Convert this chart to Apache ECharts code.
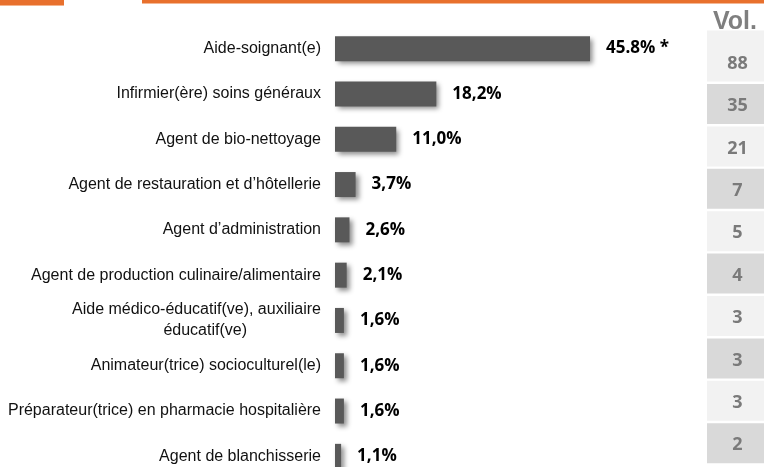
<!DOCTYPE html>
<html>
<head>
<meta charset="utf-8">
<script src="https://cdn.jsdelivr.net/npm/echarts@6/dist/echarts.min.js"></script>
<style>
html,body{margin:0;padding:0;background:#fff;}
#chart{width:764px;height:467px;}
</style>
</head>
<body>
<div id="chart"></div>
<script>
var categories = [
  'Aide-soignant(e)',
  'Infirmier(ère) soins généraux',
  'Agent de bio-nettoyage',
  'Agent de restauration et d\u2019hôtellerie',
  'Agent d\u2019administration',
  'Agent de production culinaire/alimentaire',
  'Aide médico-éducatif(ve), auxiliaire\néducatif(ve)',
  'Animateur(trice) socioculturel(le)',
  'Préparateur(trice) en pharmacie hospitalière',
  'Agent de blanchisserie'
];
var percents = [45.8, 18.2, 11.0, 3.7, 2.6, 2.1, 1.6, 1.6, 1.6, 1.1];
var percentLabels = ['45.8% *', '18,2%', '11,0%', '3,7%', '2,6%', '2,1%', '1,6%', '1,6%', '1,6%', '1,1%'];
var vols = [88, 35, 21, 7, 5, 4, 3, 3, 3, 2];
var volTitle = 'Vol.';

var chart = echarts.init(document.getElementById('chart'), null, {renderer: 'canvas'});

var option = {
  backgroundColor: '#ffffff',
  animation: false,
  title: {
    text: volTitle,
    left: 713,
    top: 10,
    padding: 0,
    textStyle: {fontFamily: 'Liberation Sans', fontWeight: 'bold', fontSize: 25, color: '#7f7f7f'}
  },
  graphic: [
    {type: 'rect', shape: {x: 0, y: 0, width: 64, height: 5}, style: {fill: '#e8702d'}},
    {type: 'rect', shape: {x: 0, y: 5, width: 64, height: 1}, style: {fill: '#f4b48e'}},
    {type: 'rect', shape: {x: 142, y: 0, width: 622, height: 3.5}, style: {fill: '#e8702d'}}
  ],
  grid: [
    {left: 335, top: 26, width: 278.4, height: 453, outerBoundsMode: 'none', containLabel: false},
    {left: 707, top: 40.4, width: 60, height: 424, outerBoundsMode: 'none', containLabel: false}
  ],
  xAxis: [
    {type: 'value', gridIndex: 0, min: 0, max: 50, show: false},
    {type: 'value', gridIndex: 1, min: 0, max: 1, show: false}
  ],
  yAxis: [
    {
      type: 'category', gridIndex: 0, inverse: true, data: categories,
      axisLine: {show: false}, axisTick: {show: false}, splitLine: {show: false},
      axisLabel: {
        margin: 14,
        fontFamily: 'Liberation Sans', fontSize: 16, color: '#111111',
        formatter: function (v) {
          if (v.indexOf('\n') >= 0) {
            var p = v.split('\n');
            return '{a|' + p[0] + '}\n{b|' + p[1] + '}';
          }
          return v;
        },
        rich: {
          a: {fontFamily: 'Liberation Sans', fontSize: 16, color: '#111111', lineHeight: 21},
          b: {fontFamily: 'Liberation Sans', fontSize: 16, color: '#111111', lineHeight: 21, padding: [0, 74, 0, 0]}
        }
      }
    },
    {
      type: 'category', gridIndex: 1, inverse: true, data: categories, show: false
    }
  ],
  series: [
    {
      type: 'bar', xAxisIndex: 0, yAxisIndex: 0,
      data: percents, barWidth: 25,
      itemStyle: {
        color: '#595959',
        shadowColor: 'rgba(0,0,0,0.45)', shadowBlur: 5, shadowOffsetX: 3, shadowOffsetY: 3
      },
      label: {
        show: true, position: 'right', distance: 16,
        fontFamily: 'Open Sans', fontWeight: 'bold', fontSize: 17, color: '#000000',
        formatter: function (p) { return percentLabels[p.dataIndex]; }
      }
    },
    {
      type: 'custom', xAxisIndex: 1, yAxisIndex: 1,
      data: vols.map(function (v, i) { return [i, v]; }),
      encode: {y: 0},
      renderItem: function (params, api) {
        var idx = params.dataIndex;
        var c = api.coord([0, idx]);
        var cs = params.coordSys;
        var top = c[1] - 20, h = 40;
        if (idx === 0) { top -= 11; h += 11; }
        return {
          type: 'group',
          children: [
            {type: 'rect', shape: {x: cs.x, y: top, width: cs.width, height: h},
             style: {fill: idx % 2 === 0 ? '#f2f2f2' : '#d9d9d9'}},
            {type: 'text', x: 737.5, y: c[1] + 2,
             style: {text: String(api.value(1)), align: 'center', verticalAlign: 'middle',
                     fontFamily: 'Open Sans', fontWeight: 'bold', fontSize: 18, fill: '#7a7a7a'}}
          ]
        };
      }
    }
  ]
};
chart.setOption(option);
</script>
</body>
</html>
